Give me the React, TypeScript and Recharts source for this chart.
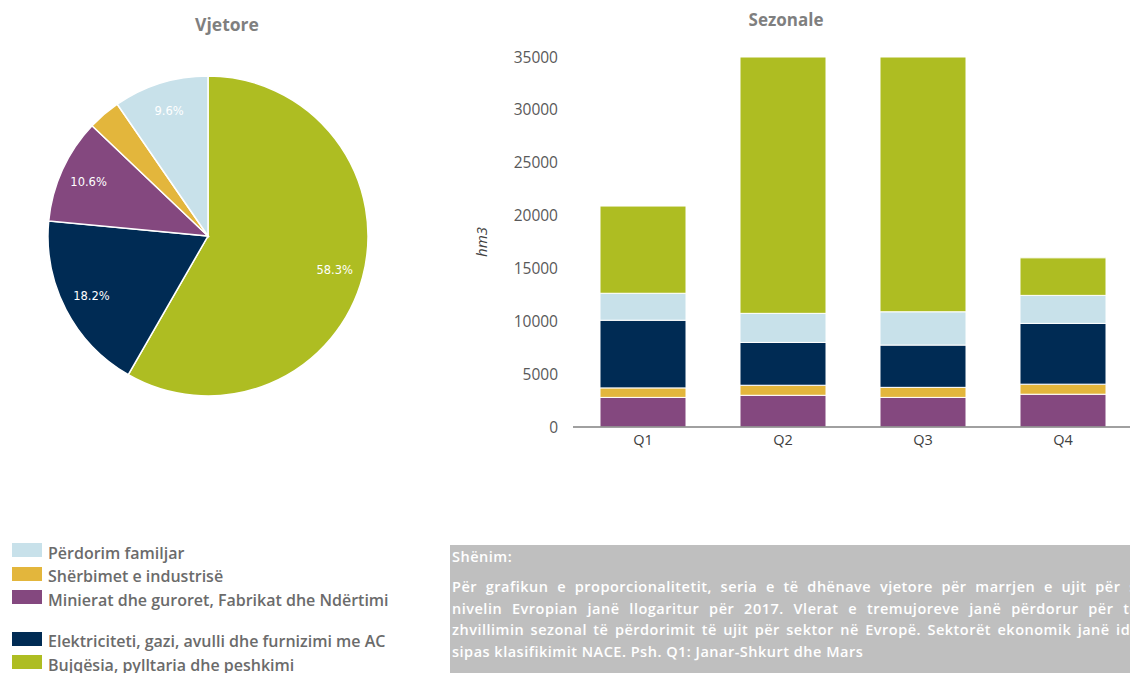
import React from 'react';
import { PieChart, Pie, Cell, BarChart, Bar, XAxis, YAxis } from 'recharts';

// Sectors, in pie order (clockwise from 12 o'clock)
const sectorNames = [
  'Bujqësia, pylltaria dhe peshkimi',
  'Elektriciteti, gazi, avulli dhe furnizimi me AC',
  'Minierat dhe guroret, Fabrikat dhe Ndërtimi',
  'Shërbimet e industrisë',
  'Përdorim familjar',
];
const sectorColors = ['#aebd22', '#002b54', '#84487f', '#e3b63c', '#c8e1ea'];
const annualShares = [58.3, 18.2, 10.6, 3.3, 9.6];

// Seasonal values, hm3
const quarters = ['Q1', 'Q2', 'Q3', 'Q4'];
const mining = [2800, 3000, 2800, 3100];
const services = [900, 950, 950, 950];
const electricity = [6400, 4050, 4000, 5750];
const household = [2550, 2750, 3150, 2650];
const agriculture = [8250, 24250, 24100, 3550];
const yTicks = [0, 5000, 10000, 15000, 20000, 25000, 30000, 35000];

// legend order as in the figure (null = blank row)
const legendOrder: (number | null)[] = [4, 3, 2, null, 1, 0];

const noteTitle = 'Shënim:';
const noteLines = [
  'Për grafikun e proporcionalitetit, seria e të dhënave vjetore për marrjen e ujit për sektor në',
  'nivelin Evropian janë llogaritur për 2017. Vlerat e tremujoreve janë përdorur për të treguar',
  'zhvillimin sezonal të përdorimit të ujit për sektor në Evropë. Sektorët ekonomik janë identifikuar',
  'sipas klasifikimit NACE. Psh. Q1: Janar-Shkurt dhe Mars',
];

const pieData = sectorNames.map((name, i) => ({ name, value: annualShares[i] }));
const barData = quarters.map((q, i) => ({
  q,
  mining: mining[i],
  services: services[i],
  electricity: electricity[i],
  household: household[i],
  agriculture: agriculture[i],
}));

const RAD = Math.PI / 180;
const font = '"Open Sans", sans-serif';

function pieLabel(props: any) {
  const { cx, cy, midAngle, outerRadius, value } = props;
  if (value < 5) return null;
  const r = outerRadius * 0.82;
  const x = cx + r * Math.cos(-midAngle * RAD);
  const y = cy + r * Math.sin(-midAngle * RAD);
  return (
    <text x={x} y={y} fill="#fff" fontSize={11.5} fontFamily='"DejaVu Sans", sans-serif' textAnchor="middle" dominantBaseline="central">
      {value.toFixed(1)}%
    </text>
  );
}

const title: React.CSSProperties = {
  position: 'absolute',
  fontFamily: font,
  fontWeight: 700,
  color: '#7f7f7f',
  transform: 'translate(-50%, -50%)',
  whiteSpace: 'nowrap',
};

export default function App() {
  return (
    <div style={{ position: 'fixed', left: 0, top: 0, width: 1130, height: 673, overflow: 'hidden', background: '#fff' }}>
      <div style={{ ...title, left: 227, top: 24, fontSize: 17.5 }}>Vjetore</div>
      <div style={{ ...title, left: 786, top: 19, fontSize: 17 }}>Sezonale</div>

      <div style={{ position: 'absolute', left: 0, top: 0 }}>
        <PieChart width={440} height={420} margin={{ top: 0, right: 0, bottom: 0, left: 0 }}>
          <Pie
            data={pieData}
            dataKey="value"
            cx={208}
            cy={236}
            outerRadius={160}
            startAngle={90}
            endAngle={-270}
            stroke="#fff"
            strokeWidth={1.5}
            label={pieLabel}
            labelLine={false}
            isAnimationActive={false}
          >
            {pieData.map((d, i) => (
              <Cell key={d.name} fill={sectorColors[i]} />
            ))}
          </Pie>
        </PieChart>
      </div>

      <div style={{ position: 'absolute', left: 470, top: 0 }}>
        <BarChart width={670} height={460} data={barData} margin={{ top: 57, right: 7, bottom: 3, left: 0 }} barSize={86}>
          <XAxis
            dataKey="q"
            axisLine={{ stroke: '#808080', strokeWidth: 1.5 }}
            tickLine={false}
            height={30}
            tick={{ fill: '#404040', fontSize: 14.5, fontFamily: font }}
          />
          <YAxis
            width={103}
            domain={[0, 35000]}
            ticks={yTicks}
            axisLine={false}
            tickLine={false}
            tickMargin={9}
            interval={0}
            tick={{ fill: '#595959', fontSize: 15.5, fontFamily: font }}
            label={({ viewBox }: any) => (
              <text
                x={viewBox.x + 11}
                y={viewBox.y + viewBox.height / 2}
                transform={`rotate(-90 ${viewBox.x + 11} ${viewBox.y + viewBox.height / 2})`}
                textAnchor="middle"
                dominantBaseline="central"
                fontSize={15}
                fontStyle="italic"
                fontFamily={font}
                fill="#404040"
              >
                hm3
              </text>
            )}
          />
          <Bar dataKey="mining" stackId="s" fill={sectorColors[2]} stroke="#fff" strokeWidth={1} isAnimationActive={false} />
          <Bar dataKey="services" stackId="s" fill={sectorColors[3]} stroke="#fff" strokeWidth={1} isAnimationActive={false} />
          <Bar dataKey="electricity" stackId="s" fill={sectorColors[1]} stroke="#fff" strokeWidth={1} isAnimationActive={false} />
          <Bar dataKey="household" stackId="s" fill={sectorColors[4]} stroke="#fff" strokeWidth={1} isAnimationActive={false} />
          <Bar dataKey="agriculture" stackId="s" fill={sectorColors[0]} stroke="#fff" strokeWidth={1} isAnimationActive={false} />
        </BarChart>
      </div>

      <div style={{ position: 'absolute', left: 12, top: 541, fontFamily: font, fontSize: 16, fontWeight: 600, color: '#6b6b6b' }}>
        {legendOrder.map((idx, k) =>
          idx === null ? (
            <div key={k} style={{ height: 18 }} />
          ) : (
            <div key={k} style={{ display: 'flex', alignItems: 'center', height: 23.5, whiteSpace: 'nowrap' }}>
              <span style={{ width: 30, height: 14, background: sectorColors[idx], marginRight: 6, marginTop: -5 }} />
              <span>{sectorNames[idx]}</span>
            </div>
          ),
        )}
      </div>

      <div
        style={{
          position: 'absolute',
          left: 450,
          top: 545,
          width: 680,
          height: 128,
          background: '#bfbfbf',
          overflow: 'hidden',
          color: '#fff',
          fontFamily: font,
          fontSize: 14.5,
          fontWeight: 600,
          letterSpacing: 0.5,
        }}
      >
        <div style={{ position: 'absolute', left: 2, top: 1, lineHeight: '22px' }}>{noteTitle}</div>
        <div style={{ position: 'absolute', left: 2, top: 31, width: 752, lineHeight: '21.7px' }}>
          {noteLines.map((line, i) => (
            <div
              key={i}
              style={{
                whiteSpace: 'nowrap',
                textAlign: i < noteLines.length - 1 ? 'justify' : 'left',
                textAlignLast: i < noteLines.length - 1 ? 'justify' : 'left',
              }}
            >
              {line}
            </div>
          ))}
        </div>
      </div>
    </div>
  );
}
